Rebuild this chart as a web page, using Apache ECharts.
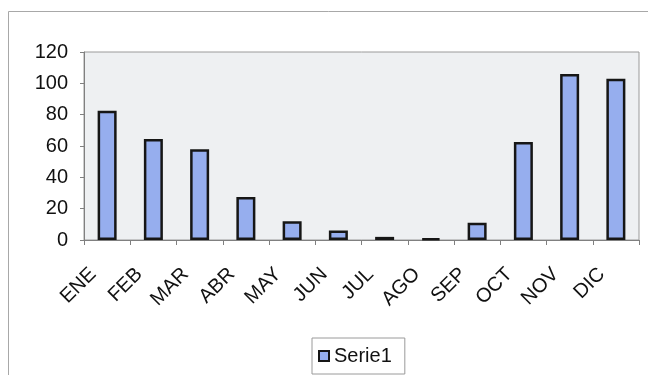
<!DOCTYPE html>
<html>
<head>
<meta charset="utf-8">
<title>Serie1</title>
<script src="https://cdn.jsdelivr.net/npm/echarts@6/dist/echarts.min.js"></script>
<style>
  html, body { margin: 0; padding: 0; background: #ffffff; }
  #chart { width: 648px; height: 375px; }
</style>
</head>
<body>
<div id="chart"></div>
<script>
// Monthly values, one bar per month
const months = ['ENE', 'FEB', 'MAR', 'ABR', 'MAY', 'JUN', 'JUL', 'AGO', 'SEP', 'OCT', 'NOV', 'DIC'];
const serie1 = [82.5, 64.5, 58, 27.5, 12, 6, 2, 1, 11, 62.5, 106, 103];
const seriesName = 'Serie1';
const yTicks = { min: 0, max: 120, interval: 20 };

const labelFont = 'Arial, "Liberation Sans", sans-serif';

const chart = echarts.init(document.getElementById('chart'), null, { renderer: 'canvas' });

chart.setOption({
  backgroundColor: '#ffffff',
  animation: false,
  graphic: [{
    // chart-area frame
    type: 'rect',
    silent: true,
    shape: { x: 8.5, y: 11.5, width: 700, height: 500 },
    style: { fill: 'none', stroke: '#a8a8a8', lineWidth: 1 },
    z: -1
  }],
  grid: {
    left: 84,
    top: 52,
    right: 9,
    bottom: 135,
    show: true,
    backgroundColor: '#eef0f2',
    borderColor: '#9a9a9a',
    borderWidth: 1
  },
  legend: {
    data: [seriesName],
    left: 312,
    top: 338,
    orient: 'horizontal',
    padding: [8, 13, 8, 6],
    borderColor: '#9a9a9a',
    borderWidth: 1,
    backgroundColor: '#ffffff',
    icon: 'rect',
    itemWidth: 10,
    itemHeight: 10,
    textStyle: { fontFamily: labelFont, fontSize: 20, color: '#111111' }
  },
  xAxis: {
    type: 'category',
    data: months,
    boundaryGap: true,
    axisLine: { show: true, lineStyle: { color: '#808080', width: 1 } },
    axisTick: { show: true, inside: false, length: 5, alignWithLabel: false, lineStyle: { color: '#808080' } },
    axisLabel: {
      interval: 0,
      rotate: 45,
      margin: 17,
      padding: [0, 20, 0, 0],
      fontFamily: labelFont,
      fontSize: 20,
      color: '#111111'
    },
    splitLine: { show: false }
  },
  yAxis: {
    type: 'value',
    min: yTicks.min,
    max: yTicks.max,
    interval: yTicks.interval,
    axisLine: { show: true, lineStyle: { color: '#808080', width: 1 } },
    axisTick: { show: true, inside: false, length: 4, lineStyle: { color: '#808080' } },
    axisLabel: {
      margin: 16,
      fontFamily: labelFont,
      fontSize: 20,
      color: '#111111'
    },
    splitLine: { show: false }
  },
  series: [{
    name: seriesName,
    type: 'bar',
    data: serie1,
    barWidth: 19,
    itemStyle: {
      color: '#96aeee',
      borderColor: '#161616',
      borderWidth: 2.5
    }
  }]
});
</script>
</body>
</html>
